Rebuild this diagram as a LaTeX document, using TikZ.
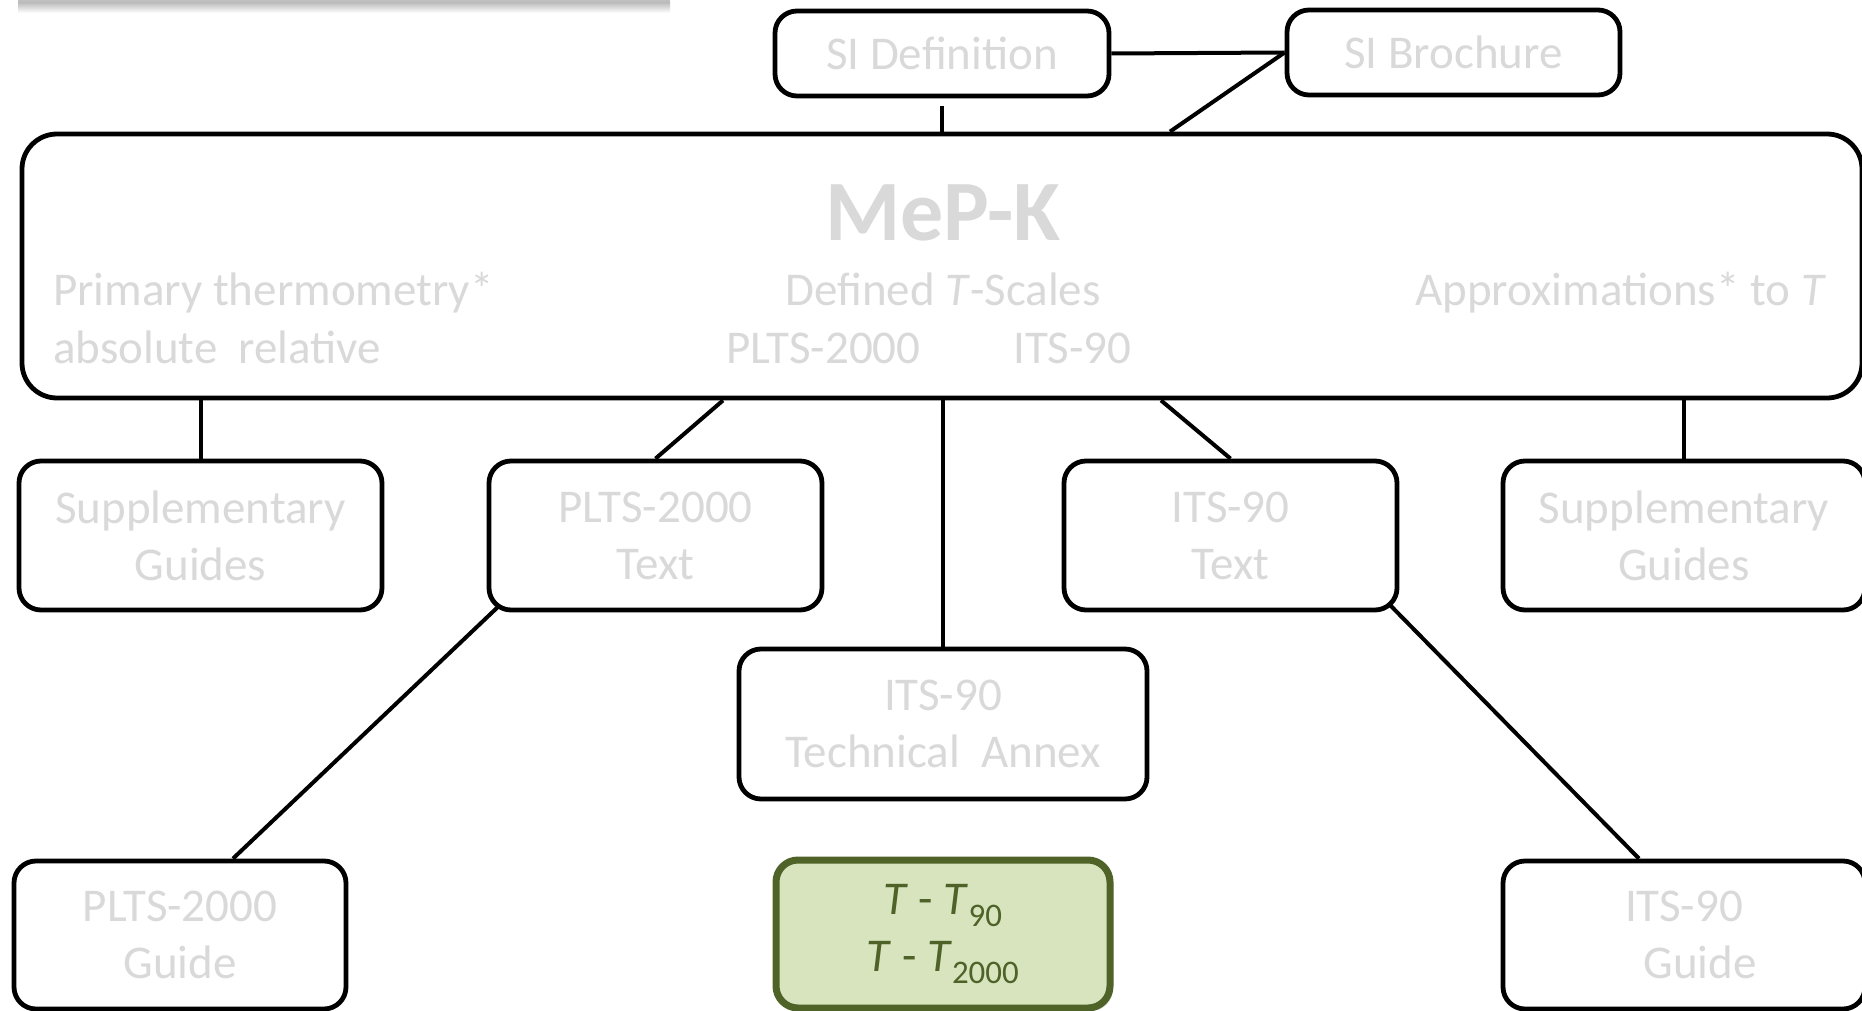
\documentclass[tikz,border=0pt]{standalone}
\usepackage{fontspec}
\setmainfont{Carlito}
\usetikzlibrary{calc,shadows,backgrounds}
\definecolor{txtgray}{RGB}{217,217,217}
\definecolor{olivedk}{RGB}{79,98,40}
\definecolor{olivelt}{RGB}{215,228,189}
\begin{document}
\begin{tikzpicture}[x=1pt,y=-1pt,
 box/.style={draw=black, line width=4.8pt, rounded corners=22pt, fill=white, align=center,
   text=txtgray, inner sep=0pt, font=\fontsize{47}{57}\selectfont},
 conn/.style={draw=black, line width=4pt},
 lbl/.style={text=txtgray, inner sep=0pt, font=\fontsize{47}{57}\selectfont}]
\useasboundingbox (0,0) rectangle (1862,1011);
% top-left shadowed bar
\fill[gray!50] (18,0) rectangle (670,3);
\shade[top color=gray!50, bottom color=white] (18,3) rectangle (670,13);

% boxes
\node[box, minimum width=334pt, minimum height=85pt] (sidef) at (942,53.5) {SI Definition};
\node[box, minimum width=333pt, minimum height=85pt] (sibro) at (1453.5,52.5) {SI Brochure};
\node[box, rounded corners=35pt, minimum width=1840pt, minimum height=264pt] (main) at (942,266) {};
\node[box, minimum width=363pt, minimum height=149pt] (supl) at (200.5,535.5) {Supplementary\\Guides};
\node[box, minimum width=333pt, minimum height=149pt] (pltst) at (655.5,535.5) {PLTS-2000\\Text};
\node[box, minimum width=333pt, minimum height=149pt] (itst) at (1230.5,535.5) {ITS-90\\Text};
\node[box, minimum width=362pt, minimum height=149pt] (supr) at (1684,535.5) {Supplementary\\Guides};
\node[box, minimum width=408pt, minimum height=150pt] (annex) at (943,724) {ITS-90\\Technical\ \ Annex};
\node[box, minimum width=332pt, minimum height=148pt] (pltsg) at (180,935) {PLTS-2000\\Guide};
\node[box, draw=olivedk, fill=olivelt, text=olivedk, line width=7pt,
  drop shadow={shadow xshift=3pt, shadow yshift=-3pt, fill=gray!60, opacity=0.5},
  minimum width=334pt, minimum height=148pt] (green) at (943,934)
  {\textit{T} - \textit{T}\textsubscript{90}\\\textit{T} - \textit{T}\textsubscript{2000}};
\node[box, minimum width=362pt, minimum height=148pt] (itsg) at (1684,935) {ITS-90\\\hspace*{32pt}Guide};

% texts in main box
\node[lbl, anchor=base, font=\fontsize{86}{100}\selectfont\bfseries] (mepk) at (943,240) {MeP-K};
\node[lbl, anchor=base west] (prim) at (53,305) {Primary thermometry*};
\node[lbl, anchor=base west] (absrel) at (53,363) {absolute\ \ relative};
\node[lbl, anchor=base] (deft) at (943,305) {Defined \textit{T}-Scales};
\node[lbl, anchor=base west] (plts) at (726,363) {PLTS-2000};
\node[lbl, anchor=base west] (its) at (1013,363) {ITS-90};
\node[lbl, anchor=base east] (approx) at (1826,305) {Approximations* to \textit{T}};

% connectors
\begin{scope}[on background layer]
\draw[conn, shorten <=8pt] (sidef.south) -- (sidef.south |- main.north);
\draw[conn] (sidef.east) -- (sibro.west);
\draw[conn] (sibro.west) -- ($(main.north)+(228,0)$);
\draw[conn] (supl.north |- main.south) -- (supl.north);
\draw[conn] ($(main.south)+(-219,0)$) -- (pltst.north);
\draw[conn] (annex.north |- main.south) -- (annex.north);
\draw[conn] ($(main.south)+(219,0)$) -- (itst.north);
\draw[conn] (supr.north |- main.south) -- (supr.north);
\draw[conn] ($(pltst.south west)+(14,-8)$) -- ($(pltsg.north)+(53,0)$);
\draw[conn] ($(itst.south east)+(-10,-8)$) -- ($(itsg.north)+(-45,0)$);
\end{scope}
\end{tikzpicture}
\end{document}
